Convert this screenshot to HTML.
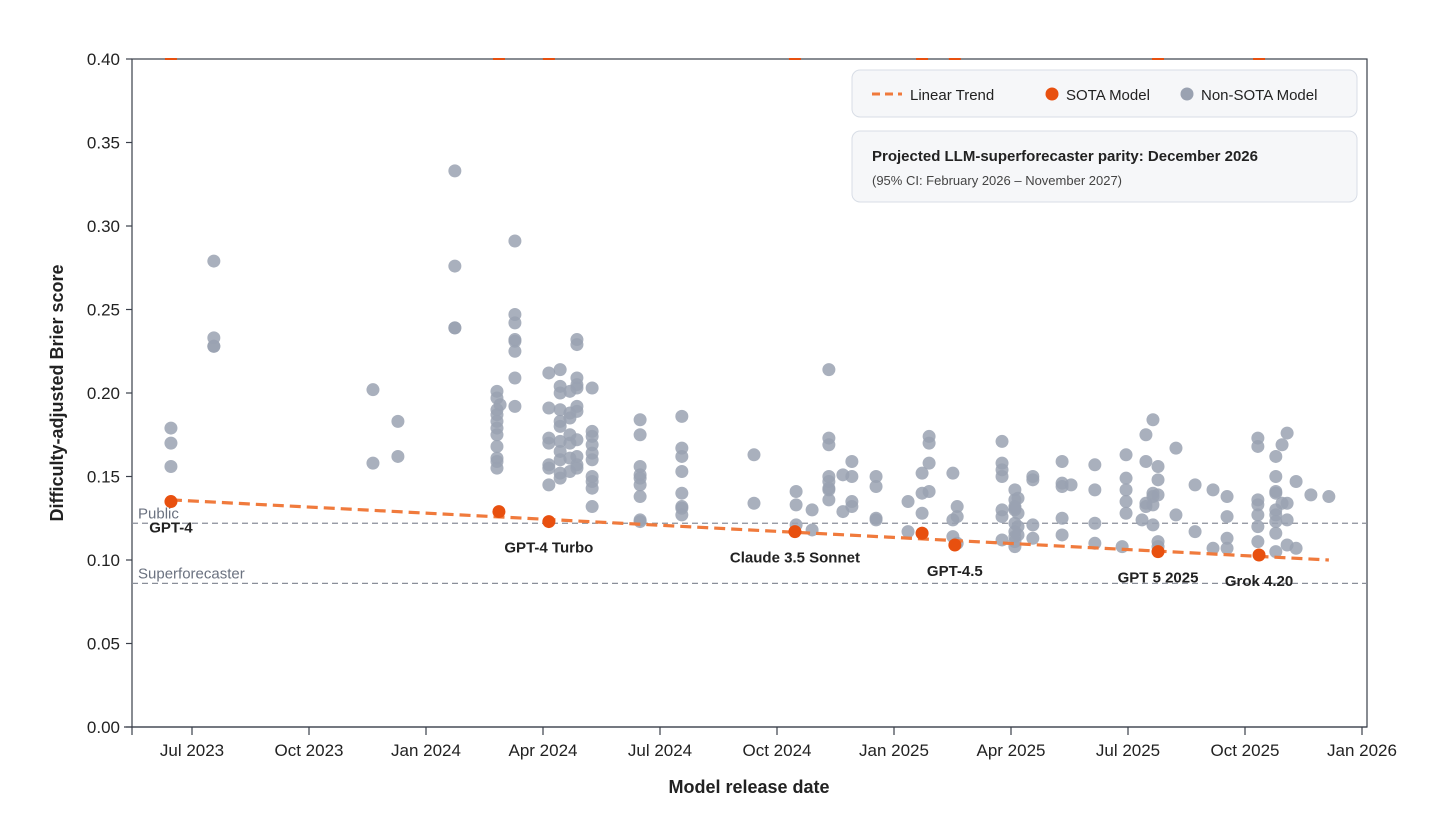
<!DOCTYPE html>
<html><head><meta charset="utf-8">
<style>
html,body{margin:0;padding:0;background:#fff;}
svg{display:block;font-family:"Liberation Sans",sans-serif;}
</style></head>
<body>
<svg id="chart" width="1456" height="838" viewBox="0 0 1456 838" xmlns="http://www.w3.org/2000/svg">
<g id="axes"></g>
<g id="refs"></g>
<g id="dots"></g>
<g id="trend"></g>
<g id="sota"></g>
<g id="legend"></g>
</svg>
<script>
// x values: months since 1 Jul 2023
const groupMonths = [-0.54,0.56,4.64,5.28,6.74,7.82,7.90,8.28,9.15,9.44,9.69,9.87,10.26,11.49,12.56,14.41,15.49,15.90,16.33,16.69,16.92,17.54,18.36,18.72,18.90,19.51,19.62,20.77,21.10,21.18,21.56,22.31,22.54,23.15,23.85,23.95,24.36,24.46,24.64,24.77,25.23,25.72,26.18,26.54,27.33,27.79,27.95,28.08,28.31,28.69,29.15];
const groupScores = [
[0.179,0.170,0.156],
[0.279,0.233,0.228,0.228],
[0.202,0.158],
[0.183,0.162],
[0.333,0.276,0.239,0.239],
[0.201,0.197,0.190,0.187,0.183,0.179,0.175,0.168,0.161,0.159,0.155],
[0.193],
[0.291,0.247,0.242,0.232,0.231,0.225,0.209,0.192],
[0.212,0.191,0.173,0.170,0.157,0.155,0.145],
[0.214,0.204,0.200,0.190,0.183,0.180,0.171,0.165,0.160,0.152,0.149],
[0.201,0.188,0.185,0.175,0.170,0.161,0.153],
[0.232,0.229,0.209,0.205,0.203,0.192,0.189,0.172,0.162,0.157,0.155],
[0.203,0.177,0.174,0.169,0.164,0.160,0.150,0.147,0.143,0.132],
[0.184,0.175,0.156,0.151,0.149,0.145,0.138,0.124,0.123],
[0.186,0.167,0.162,0.153,0.140,0.132,0.131,0.127],
[0.163,0.134],
[0.141,0.133,0.121],
[0.130,0.118],
[0.214,0.173,0.169,0.150,0.147,0.143,0.142,0.136],
[0.151,0.129],
[0.159,0.150,0.135,0.132],
[0.150,0.144,0.125,0.124],
[0.135,0.117],
[0.152,0.140,0.128,0.116],
[0.174,0.170,0.158,0.141],
[0.152,0.124,0.114],
[0.132,0.126,0.110],
[0.171,0.158,0.154,0.150,0.130,0.126,0.112],
[0.142,0.136,0.132,0.131,0.130,0.122,0.117,0.114,0.111,0.108],
[0.137,0.128,0.120,0.115],
[0.150,0.148,0.121,0.113],
[0.159,0.146,0.144,0.125,0.115],
[0.145],
[0.157,0.142,0.122,0.110],
[0.108],
[0.163,0.149,0.142,0.135,0.128],
[0.124],
[0.175,0.159,0.134,0.132],
[0.184,0.140,0.138,0.133,0.121],
[0.156,0.148,0.139,0.111,0.108],
[0.167,0.127],
[0.145,0.117],
[0.142,0.107],
[0.138,0.126,0.113,0.107],
[0.173,0.168,0.136,0.133,0.127,0.120,0.111],
[0.162,0.150,0.141,0.140,0.130,0.127,0.123,0.116,0.105],
[0.169,0.134],
[0.176,0.134,0.124,0.109],
[0.147,0.107],
[0.139],
[0.138]
];
const sotaMonths = [-0.54,7.87,9.15,15.46,18.72,19.56,24.77,27.36];
const sotaScores = [0.135,0.129,0.123,0.117,0.116,0.109,0.105,0.103];
const sotaLabels = ["GPT-4","","GPT-4 Turbo","Claude 3.5 Sonnet","","GPT-4.5","GPT 5 2025","Grok 4.20"];
const trendMonths = [-0.54,29.15];
const trendScores = [0.136,0.100];
const yTicks = [0,0.05,0.10,0.15,0.20,0.25,0.30,0.35,0.40];
const xTickMonths = [0,3,6,9,12,15,18,21,24,27,30];
const xTickLabels = ["Jul 2023","Oct 2023","Jan 2024","Apr 2024","Jul 2024","Oct 2024","Jan 2025","Apr 2025","Jul 2025","Oct 2025","Jan 2026"];
const refNames = ["Public","Superforecaster"];
const refValues = [0.122,0.086];

const L=132,R=1367,T=59,B=727;
const xs = m => 192 + m*39;
const ys = v => B - v/0.4*(B-T);
const NS="http://www.w3.org/2000/svg";
function mk(tag, attrs, parent, text){
  const e=document.createElementNS(NS,tag);
  for(const k in attrs) e.setAttribute(k,attrs[k]);
  if(text!==undefined) e.textContent=text;
  parent.appendChild(e); return e;
}
const gA=document.getElementById('axes');
let e=mk('rect',{x:L,y:T,width:R-L,height:B-T,fill:'none',stroke:'#3a3f4a','stroke-width':1.2},gA);


e=mk('line',{x1:L-8,x2:R,y1:B,y2:B,stroke:'#3a3f4a','stroke-width':1.2},gA);


e=mk('line',{x1:L,x2:L,y1:B,y2:B+8,stroke:'#3a3f4a','stroke-width':1.2},gA);


yTicks.forEach(v=>{
  const y=ys(v);
  let t=mk('line',{x1:L-6,x2:L,y1:y,y2:y,stroke:'#3a3f4a','stroke-width':1.2},gA);
  
  
  let l=mk('text',{x:L-12,y:y+6,'text-anchor':'end','font-size':17,fill:'#222'},gA,v.toFixed(2));
  
  
});
xTickMonths.forEach((m,i)=>{
  let t=mk('line',{x1:xs(m),x2:xs(m),y1:B,y2:B+8,stroke:'#3a3f4a','stroke-width':1.2},gA);
  
  
  let l=mk('text',{x:xs(m),y:B+29,'text-anchor':'middle','font-size':17,fill:'#222'},gA,xTickLabels[i]);
  
  
});
e=mk('text',{x:749,y:793,'text-anchor':'middle','font-size':18,'font-weight':'bold',fill:'#222'},gA,'Model release date');


e=mk('text',{x:0,y:0,'text-anchor':'middle','font-size':18,'font-weight':'bold',fill:'#222',transform:'translate(63,393) rotate(-90)'},gA,'Difficulty-adjusted Brier score');



const gR=document.getElementById('refs');
refValues.forEach((v,i)=>{
  let l=mk('line',{x1:L,x2:R,y1:ys(v),y2:ys(v),stroke:'#8a8f99','stroke-width':1.2,'stroke-dasharray':'6,4'},gR);
  
  
  let t=mk('text',{x:138,y:ys(v)-5,'font-size':15,fill:'#6b7280'},gR,refNames[i]);
  
  
});

const gD=document.getElementById('dots');
groupMonths.forEach((m,i)=>{
  groupScores[i].forEach(v=>{
    let c=mk('circle',{cx:xs(m),cy:ys(v),r:6.5,fill:'#9aa2b1','fill-opacity':0.85},gD);
    
    
  });
});

const gT=document.getElementById('trend');
e=mk('line',{x1:xs(trendMonths[0]),y1:ys(trendScores[0]),x2:xs(trendMonths[1]),y2:ys(trendScores[1]),stroke:'#f07a3c','stroke-width':3.2,'stroke-dasharray':'11,6'},gT);



const gS=document.getElementById('sota');
sotaMonths.forEach((m,i)=>{
  let tk=mk('line',{x1:xs(m)-6,x2:xs(m)+6,y1:T,y2:T,stroke:'#e8500f','stroke-width':2},gS);
  
  
  let c=mk('circle',{cx:xs(m),cy:ys(sotaScores[i]),r:6.5,fill:'#e8500f'},gS);
  
  
  if(sotaLabels[i]){
    let t=mk('text',{x:xs(m),y:ys(sotaScores[i])+31,'text-anchor':'middle','font-size':15,'font-weight':'bold',fill:'#222'},gS,sotaLabels[i]);
    
    
  }
});

const gL=document.getElementById('legend');
e=mk('rect',{x:852,y:70,width:505,height:47,rx:8,fill:'#f6f7f9',stroke:'#d8dde6'},gL);


e=mk('line',{x1:872,x2:902,y1:94,y2:94,stroke:'#f07a3c','stroke-width':3,'stroke-dasharray':'8,5'},gL);


e=mk('text',{x:910,y:100,'font-size':15,fill:'#222'},gL,'Linear Trend');


e=mk('circle',{cx:1052,cy:94,r:6.5,fill:'#e8500f'},gL);


e=mk('text',{x:1066,y:100,'font-size':15,fill:'#222'},gL,'SOTA Model');


e=mk('circle',{cx:1187,cy:94,r:6.5,fill:'#9aa2b1'},gL);


e=mk('text',{x:1201,y:100,'font-size':15,fill:'#222'},gL,'Non-SOTA Model');


e=mk('rect',{x:852,y:131,width:505,height:71,rx:8,fill:'#f6f7f9',stroke:'#d8dde6'},gL);


e=mk('text',{x:872,y:161,'font-size':15,'font-weight':'bold',fill:'#222'},gL,'Projected LLM-superforecaster parity: December 2026');


e=mk('text',{x:872,y:185,'font-size':13,fill:'#444'},gL,'(95% CI: February 2026 \u2013 November 2027)');


</script>
</body></html>
